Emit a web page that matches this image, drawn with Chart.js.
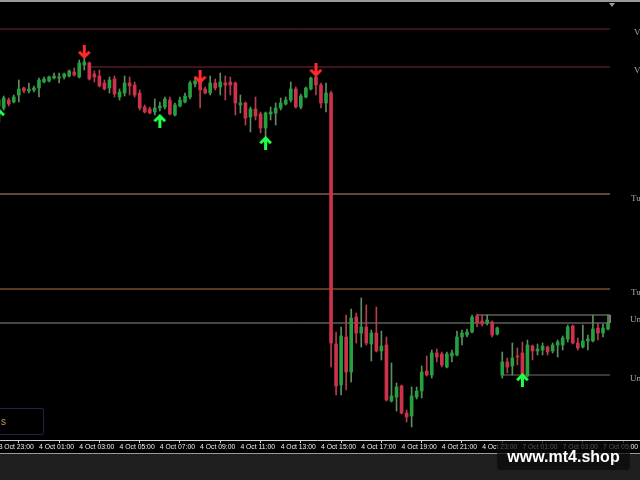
<!DOCTYPE html>
<html>
<head>
<meta charset="utf-8">
<script src="https://cdn.jsdelivr.net/npm/chart.js@4"></script>
<style>
  html, body { margin: 0; padding: 0; }
  body { width: 640px; height: 480px; background: #1e1e1e; position: relative; overflow: hidden; font-family: 'Liberation Sans', sans-serif; }
  #wrap { position: absolute; left: -6px; top: 0; width: 646px; height: 453px; background: #000; }
  #topline { position: absolute; left: 0; top: 0; width: 640px; height: 2px; background: #9a9a9a; }
  #bottomline { position: absolute; left: 0; top: 453px; width: 640px; height: 1px; background: #9a9a9a; }
  #shift { position: absolute; left: 609px; top: 3px; width: 0; height: 0; border-left: 3px solid transparent; border-right: 3px solid transparent; border-top: 4px solid #9a9a9a; }
  .lvl { position: absolute; font-family: 'Liberation Serif', serif; font-size: 9px; color: #a8a8a8; white-space: nowrap; }
  #infobox { position: absolute; left: -10px; top: 408px; width: 52px; height: 25px; border: 1px solid #22224a; border-radius: 2px; }
  #infobox span { position: absolute; left: 10px; top: 7px; font-size: 10px; color: #c89a58; }
  #mark { position: absolute; left: 497px; top: 441px; width: 133px; height: 29px; background: rgba(10,10,10,0.72); border-radius: 4px;
          color: #fff; font: bold 16px 'Liberation Sans', Arial, sans-serif; text-align: center; line-height: 32px; }
</style>
</head>
<body>
<div id="wrap"><canvas id="chart" width="646" height="453"></canvas></div>
<div id="topline"></div>
<div id="bottomline"></div>
<div id="shift"></div>
<span class="lvl" style="left:634px;top:27px">V</span>
<span class="lvl" style="left:634px;top:65px">V</span>
<span class="lvl" style="left:631px;top:193px">Tu</span>
<span class="lvl" style="left:631px;top:287px">Tu</span>
<span class="lvl" style="left:630px;top:314px">Un</span>
<span class="lvl" style="left:630px;top:373px">Un</span>
<div id="infobox"><span>s</span></div>
<div id="mark">www.mt4.shop</div>
<script>
// M15 candles, prices (arbitrary units, higher = up)
const opens  = [334,332,340,338,345,352,349,350,352,358,359,362,362,363,364,368,363,375,377,366,364,357,352,361,343,347,357,355,347,333,331,328,332,333,340,325,334,338,343,356,358,351,347,357,353,357,358,357,335,337,323,331,326,312,326,327,332,336,340,351,333,343,351,363,355,337,347,96,55,103,68,123,107,113,96,107,89,95,39,43,54,27,24,43,49,69,65,87,86,73,84,85,103,105,108,124,119,117,118,106,65,78,74,84,87,64,94,89,90,93,89,95,95,101,114,97,93,99,99,112,107,111];
const highs  = [343,344,342,345,360,353,357,354,362,363,364,367,367,367,370,372,380,382,378,369,370,360,363,364,351,364,363,358,350,335,333,341,338,343,343,337,343,347,359,363,362,353,364,361,367,364,363,358,345,338,333,343,328,328,333,337,342,343,358,353,346,353,363,364,357,357,349,108,113,125,131,127,142,135,110,133,109,103,77,57,55,30,53,53,74,84,90,91,88,88,90,109,110,111,125,126,125,125,119,113,88,82,97,92,98,100,95,96,97,94,97,100,104,115,115,102,115,105,125,117,116,125];
const lows   = [332,330,334,337,338,347,347,348,343,357,358,361,357,361,363,364,362,370,360,358,353,350,347,343,340,344,345,343,330,327,326,325,329,331,325,324,333,337,341,353,332,346,345,350,345,340,345,325,327,315,308,320,307,303,320,315,330,335,338,332,331,342,350,345,332,328,73,45,45,50,58,97,93,95,79,88,80,39,38,29,26,18,13,41,42,64,62,78,73,72,78,84,95,103,107,113,114,115,103,105,62,67,65,75,64,63,80,85,85,85,87,83,90,98,96,90,92,90,98,100,103,110];
const closes = [340,342,336,343,351,349,351,352,360,361,363,364,363,366,369,365,377,378,361,363,354,351,360,346,348,357,354,345,332,328,327,332,334,341,326,335,340,344,357,359,350,347,357,352,358,355,355,337,337,322,331,324,312,327,328,332,337,340,351,333,344,352,362,355,337,347,97,54,104,68,122,107,113,97,107,89,94,40,44,53,27,23,44,49,68,65,87,83,75,86,87,103,107,108,123,117,116,120,105,112,78,73,82,83,65,95,89,91,94,88,95,98,102,113,97,92,99,101,111,107,112,117];

// time axis
const tickIndex  = [0,8,16,24,32,40,48,56,64,72,80,88,96,104,112,120];
const tickLabels = ['3 Oct 23:00','4 Oct 01:00','4 Oct 03:00','4 Oct 05:00','4 Oct 07:00','4 Oct 09:00','4 Oct 11:00','4 Oct 13:00',
                    '4 Oct 15:00','4 Oct 17:00','4 Oct 19:00','4 Oct 21:00','4 Oct 23:00','7 Oct 01:00','7 Oct 03:00','7 Oct 05:00'];

// drawn objects: level price, first bar, last bar
const levelPrices = [411, 373, 246, 151, 117, 125, 65];
const levelFrom   = [-1, 18, -1, -1, -1, 95, 100];
const levelTo     = [121.4, 121.4, 121.4, 121.4, 121.4, 121.4, 121.4];
const levelColors = ['#6e2434', '#7a2838', '#c08a78', '#b0763e', '#8c8c8c', '#8c8c8c', '#707070'];

// signal arrows
const sellBars   = [17, 40, 63];
const sellPrices = [388, 363, 370];
const buyBars    = [0, 32, 53, 104];
const buyPrices  = [325, 319, 297, 60];

const UP_BODY = '#24a03e', UP_WICK = '#5e8e60';
const DN_BODY = '#cc324c', DN_WICK = '#b0404e';

function makeArrow(color, down) {
    const c = document.createElement('canvas');
    c.width = 13;
    c.height = 14;
    const g = c.getContext('2d');
    g.strokeStyle = color;
    g.lineWidth = 3;
    g.beginPath();
    if (down) {
        g.moveTo(6.5, 0); g.lineTo(6.5, 12);
        g.moveTo(1.2, 6.8); g.lineTo(6.5, 12); g.lineTo(11.8, 6.8);
    } else {
        g.moveTo(6.5, 14); g.lineTo(6.5, 2);
        g.moveTo(1.2, 7.2); g.lineTo(6.5, 2); g.lineTo(11.8, 7.2);
    }
    g.stroke();
    return c;
}

const isUp = i => closes[i] >= opens[i];

const wickData = opens.map((o, i) => ({ x: i, y: [lows[i], highs[i]] }));
const bodyData = opens.map((o, i) => ({ x: i, y: [o, closes[i]] }));

const levelSets = levelPrices.map((p, k) => {
    const pts = [{ x: levelFrom[k], y: p }, { x: levelTo[k], y: p }];
    if (k === 5) pts.push({ x: levelTo[k], y: levelPrices[4] });
    return {
        type: 'line',
        data: pts,
        borderColor: levelColors[k],
        borderWidth: 1,
        pointRadius: 0,
        order: 5
    };
});

new Chart(document.getElementById('chart'), {
    type: 'bar',
    data: {
        datasets: [
            ...levelSets,
            {
                data: wickData,
                backgroundColor: ctx => isUp(ctx.dataIndex) ? UP_WICK : DN_WICK,
                barThickness: 1,
                grouped: false,
                order: 3
            },
            {
                data: bodyData,
                backgroundColor: ctx => isUp(ctx.dataIndex) ? UP_BODY : DN_BODY,
                barThickness: 3,
                grouped: false,
                order: 2
            },
            {
                type: 'line',
                showLine: false,
                data: sellBars.map((b, k) => ({ x: b, y: sellPrices[k] })),
                pointStyle: makeArrow('#ff2a2a', true),
                pointRadius: 5,
                order: 1
            },
            {
                type: 'line',
                showLine: false,
                data: buyBars.map((b, k) => ({ x: b, y: buyPrices[k] })),
                pointStyle: makeArrow('#22ff48', false),
                pointRadius: 5,
                order: 1
            }
        ]
    },
    options: {
        responsive: false,
        animation: false,
        devicePixelRatio: 1,
        layout: { padding: 0, autoPadding: false },
        plugins: { legend: { display: false }, tooltip: { enabled: false } },
        scales: {
            x: {
                type: 'linear',
                min: -0.93,
                max: 127.35,
                offset: false,
                afterBuildTicks: s => { s.ticks = tickIndex.map(v => ({ value: v })); },
                afterFit: s => { s.height = 13; s.paddingLeft = 0; s.paddingRight = 0; },
                grid: { drawOnChartArea: false, drawTicks: true, tickLength: 3, color: '#d0d0d0' },
                border: { display: true, color: '#d0d0d0', width: 1 },
                ticks: {
                    autoSkip: false,
                    maxRotation: 0,
                    align: 'start',
                    padding: 0,
                    color: '#f0f0f0',
                    font: { family: 'Liberation Sans', size: 6.8 },
                    callback: (v, k) => tickLabels[k]
                }
            },
            y: { display: false, min: 0, max: 440 }
        }
    }
});
</script>
</body>
</html>
